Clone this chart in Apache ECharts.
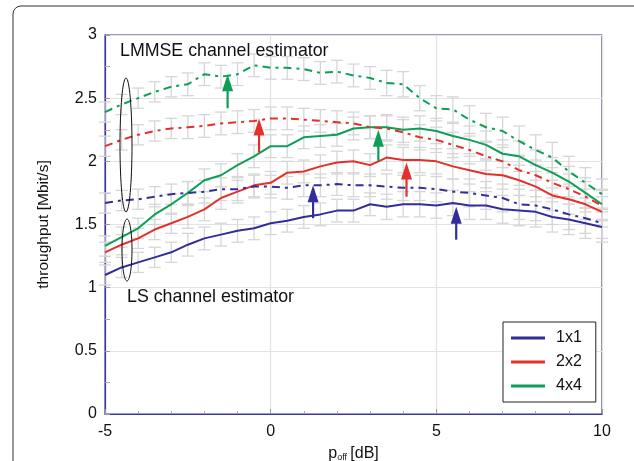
<!DOCTYPE html>
<html>
<head>
<meta charset="utf-8">
<script src="https://cdn.jsdelivr.net/npm/echarts@6/dist/echarts.min.js"></script>
<style>
html,body{margin:0;padding:0;background:#fff;}
#chart{width:634px;height:461px;}
</style>
</head>
<body>
<div id="chart"></div>
<script>
// ---- data ----
const xValues = [-5,-4.5,-4,-3.5,-3,-2.5,-2,-1.5,-1,-0.5,0,0.5,1,1.5,2,2.5,3,3.5,4,4.5,5,5.5,6,6.5,7,7.5,8,8.5,9,9.5,10];
const ls1x1    = [1.10,1.16,1.20,1.24,1.28,1.34,1.39,1.42,1.45,1.47,1.51,1.53,1.56,1.58,1.61,1.61,1.66,1.64,1.66,1.66,1.65,1.67,1.65,1.65,1.62,1.61,1.60,1.56,1.54,1.51,1.48];
const lmmse1x1 = [1.67,1.69,1.70,1.72,1.74,1.75,1.76,1.78,1.78,1.80,1.80,1.79,1.81,1.81,1.82,1.81,1.81,1.80,1.79,1.79,1.78,1.76,1.75,1.73,1.71,1.66,1.65,1.62,1.58,1.55,1.51];
const ls2x2    = [1.28,1.34,1.39,1.46,1.51,1.56,1.62,1.71,1.76,1.81,1.83,1.91,1.92,1.96,1.99,2.00,1.97,2.03,2.01,2.01,2.00,1.96,1.93,1.90,1.89,1.85,1.80,1.73,1.70,1.66,1.60];
const lmmse2x2 = [2.12,2.17,2.21,2.24,2.26,2.27,2.28,2.30,2.31,2.32,2.34,2.34,2.33,2.32,2.31,2.30,2.27,2.26,2.23,2.19,2.17,2.13,2.09,2.04,2.00,1.93,1.89,1.83,1.78,1.72,1.65];
const ls4x4    = [1.33,1.40,1.47,1.58,1.66,1.75,1.85,1.89,1.97,2.04,2.12,2.12,2.19,2.20,2.21,2.26,2.27,2.27,2.25,2.26,2.24,2.20,2.17,2.13,2.06,2.04,1.97,1.91,1.84,1.75,1.66];
const lmmse4x4 = [2.39,2.45,2.50,2.55,2.59,2.61,2.69,2.67,2.69,2.76,2.74,2.74,2.73,2.70,2.71,2.68,2.66,2.62,2.61,2.50,2.42,2.41,2.33,2.27,2.24,2.16,2.09,2.03,1.92,1.83,1.74];
const errHalf  = [0.08,0.08,0.08,0.08,0.08,0.09,0.09,0.09,0.09,0.09,0.09,0.09,0.09,0.09,0.09,0.09,0.09,0.10,0.10,0.10,0.10,0.10,0.11,0.11,0.11,0.12,0.12,0.12,0.12,0.12,0.12];
const legendNames = ['1x1','2x2','4x4'];
const yTicks = [0,0.5,1,1.5,2,2.5,3];
const xTicks = [-5,0,5,10];
// arrows: [x, yFrom, yTo, colorIndex]
const arrows = [[-1.3,2.42,2.69,2],[-0.35,2.07,2.34,1],[1.28,1.55,1.81,0],[3.25,2.00,2.25,2],[4.1,1.72,1.99,1],[5.6,1.38,1.64,0]];
const colors = ['#332d99','#e3302a','#0d9f57'];

// ---- build ----
const chart = echarts.init(document.getElementById('chart'));
const font = "'Liberation Sans', Arial, sans-serif";
function pairs(arr){ return xValues.map((x,i)=>[x,arr[i]]); }
function errData(arr){ return xValues.map((x,i)=>[x,arr[i]-errHalf[i],arr[i]+errHalf[i]]); }

const allSeries = [ls1x1,ls2x2,ls4x4,lmmse1x1,lmmse2x2,lmmse4x4];
const series = [];
allSeries.forEach((arr,k)=>{
  series.push({
    type:'custom', silent:true, z:1,
    renderItem:(params,api)=>{
      const x=api.value(0), lo=api.value(1), hi=api.value(2);
      const p1=api.coord([x,lo]), p2=api.coord([x,hi]);
      const w=6;
      const st={stroke:'#d6d6d6',lineWidth:1.3};
      return {type:'group',children:[
        {type:'line',shape:{x1:p1[0],y1:p1[1],x2:p2[0],y2:p2[1]},style:st},
        {type:'line',shape:{x1:p1[0]-w,y1:p1[1],x2:p1[0]+w,y2:p1[1]},style:st},
        {type:'line',shape:{x1:p2[0]-w,y1:p2[1],x2:p2[0]+w,y2:p2[1]},style:st}
      ]};
    },
    data:errData(arr)
  });
});
[ls1x1,ls2x2,ls4x4].forEach((arr,k)=>{
  series.push({name:legendNames[k],type:'line',data:pairs(arr),showSymbol:false,z:3,
    lineStyle:{color:colors[k],width:2},itemStyle:{color:colors[k]}});
});
[lmmse1x1,lmmse2x2,lmmse4x4].forEach((arr,k)=>{
  series.push({name:'LMMSE '+legendNames[k],type:'line',data:pairs(arr),showSymbol:false,z:3,
    lineStyle:{color:colors[k],width:2,type:[8,5,3,5]},itemStyle:{color:colors[k]}});
});
series.push({
  type:'custom', silent:true, z:5,
  renderItem:(params,api)=>{
    const x=api.value(0), y0=api.value(1), y1=api.value(2), c=colors[api.value(3)];
    const a=api.coord([x,y0]), b=api.coord([x,y1]);
    const hl=17, hw=5.5;
    return {type:'group',children:[
      {type:'line',shape:{x1:a[0],y1:a[1],x2:b[0],y2:b[1]+hl-2},style:{stroke:c,lineWidth:2.2}},
      {type:'polygon',shape:{points:[[b[0],b[1]],[b[0]-hw,b[1]+hl],[b[0]+hw,b[1]+hl]]},style:{fill:c}}
    ]};
  },
  data:arrows
});

const option = {
  animation:false,
  backgroundColor:'#fff',
  textStyle:{fontFamily:font},
  grid:{left:105,right:32,top:35,bottom:47,containLabel:false,outerBoundsMode:'none',show:true,borderColor:'#3b3799',borderWidth:1.2,backgroundColor:'transparent'},
  legend:{
    data:legendNames, orient:'vertical', left:503, top:322,
    itemWidth:34, itemHeight:3, icon:'rect', itemGap:8,
    padding:[8,14,8,8], borderColor:'#222', borderWidth:1, backgroundColor:'#fff',
    textStyle:{fontSize:16,fontFamily:font,color:'#111',padding:[0,0,0,6]}
  },
  xAxis:{
    type:'value', min:-5, max:10, interval:5,
    name:'{p|p}{s|off} {p|[dB]}', nameLocation:'middle', nameGap:31,
    nameTextStyle:{rich:{p:{fontSize:16,fontFamily:font,color:'#111'},s:{fontSize:9,fontFamily:font,color:'#111',verticalAlign:'bottom',padding:[8,0,0,0]}}},
    axisLine:{show:true,onZero:false,lineStyle:{color:'#3b3799',width:1.2}},
    axisTick:{show:true,inside:true,length:5,lineStyle:{color:'#999'}},
    minorTick:{show:true,splitNumber:5,length:3,lineStyle:{color:'#aaa'}},
    axisLabel:{fontSize:16,color:'#111',fontFamily:font,margin:10},
    splitLine:{show:true,lineStyle:{color:'#e2e2e2',width:1.2}}
  },
  yAxis:{
    type:'value', min:0, max:3, interval:0.5,
    name:'throughput [Mbit/s]', nameLocation:'middle', nameGap:53,
    nameTextStyle:{fontSize:15.5,fontFamily:font,color:'#111'},
    axisLine:{show:true,onZero:false,lineStyle:{color:'#3b3799',width:1.2}},
    axisTick:{show:true,inside:true,length:5,lineStyle:{color:'#999'}},
    minorTick:{show:true,splitNumber:2,length:5,lineStyle:{color:'#aaa'}},
    axisLabel:{fontSize:16,color:'#111',fontFamily:font,margin:8},
    splitLine:{show:true,lineStyle:{color:'#e2e2e2',width:1.2}}
  },
  graphic:[
    {type:'rect',shape:{x:13,y:6,width:660,height:520,r:8},style:{fill:null,stroke:'#333',lineWidth:1},silent:true,z:-1},
    {type:'text',left:120,top:42,style:{text:'LMMSE channel estimator',font:'17.8px '+font,fill:'#111'},z:10},
    {type:'text',left:127,top:288,style:{text:'LS channel estimator',font:'17.8px '+font,fill:'#111'},z:10},
    {type:'ellipse',shape:{cx:126,cy:145,rx:6,ry:67},style:{fill:null,stroke:'#111',lineWidth:1},z:10},
    {type:'ellipse',shape:{cx:127,cy:250,rx:5,ry:31},style:{fill:null,stroke:'#111',lineWidth:1},z:10}
  ],
  series:series
};
chart.setOption(option);
</script>
</body>
</html>
